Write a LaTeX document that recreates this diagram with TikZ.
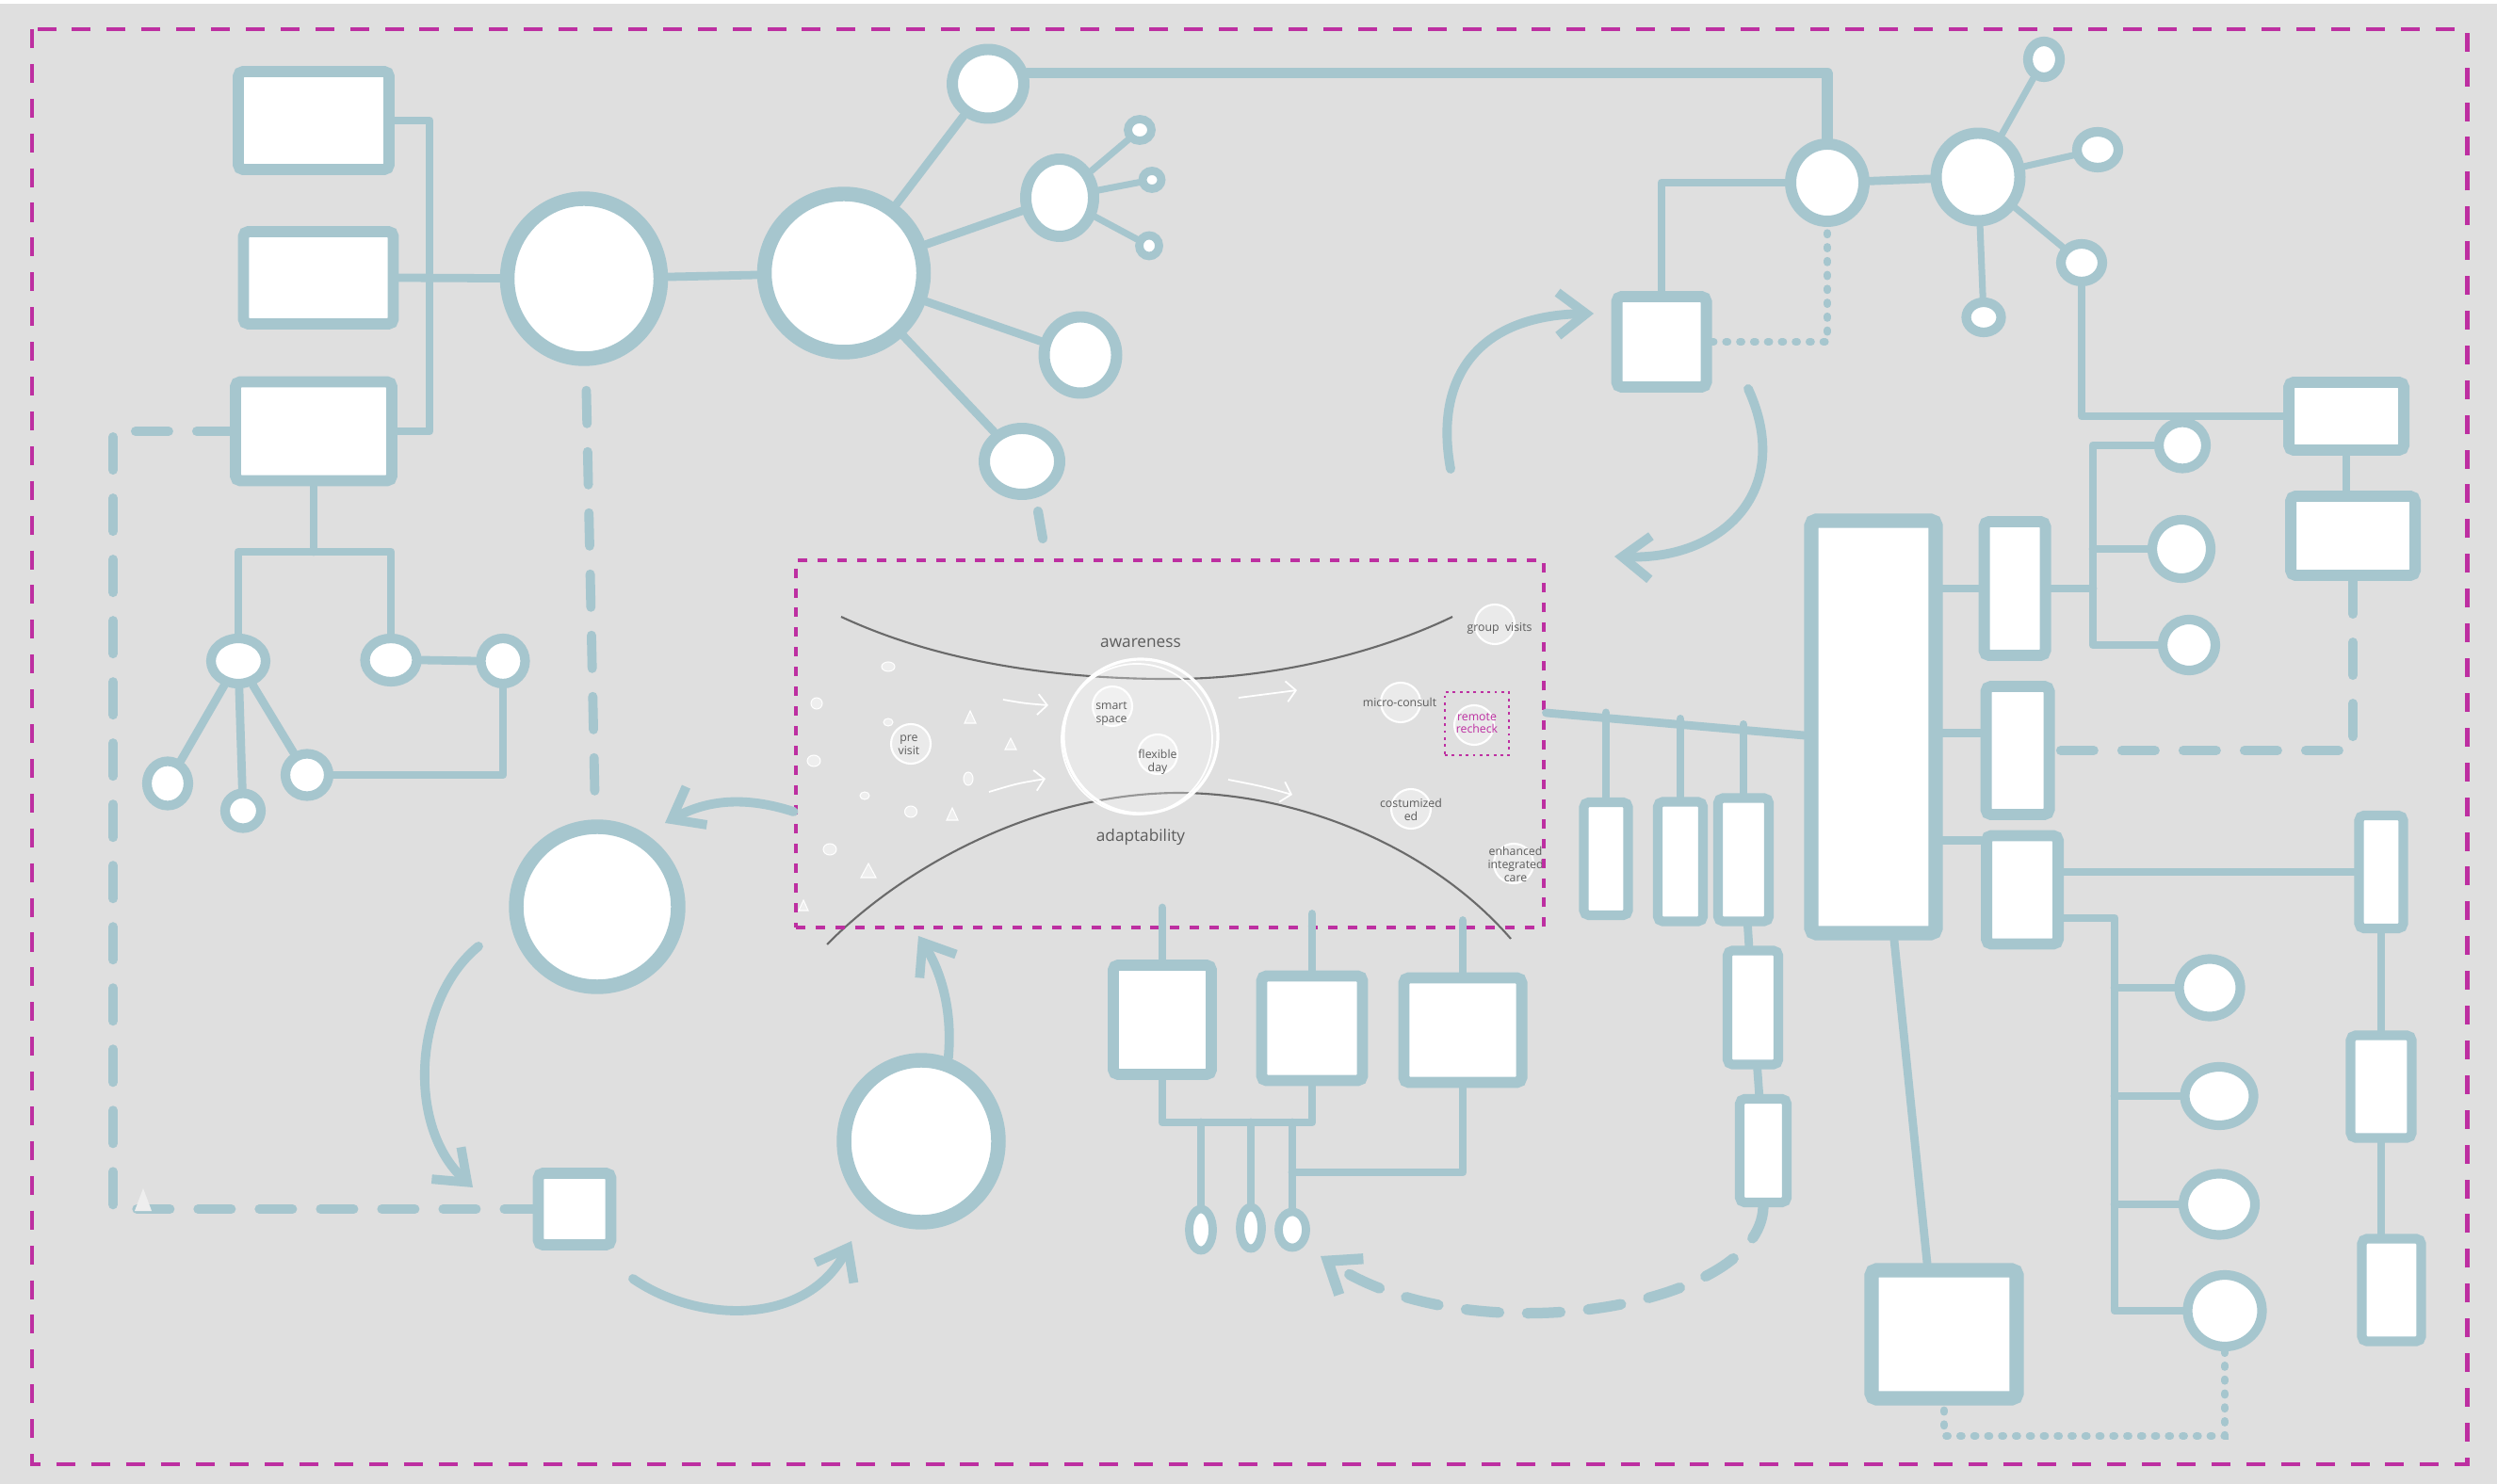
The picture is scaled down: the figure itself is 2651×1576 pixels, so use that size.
\documentclass[tikz,border=0pt]{standalone}
\usepackage{fontspec}
\setmainfont{Open Sans}
\usetikzlibrary{arrows.meta,shapes.geometric,calc}
\definecolor{bgc}{HTML}{DFDFDF}
\definecolor{tl}{HTML}{A6C6CE}
\definecolor{mag}{HTML}{BD2FA1}
\definecolor{ink}{HTML}{5C5C5C}
\definecolor{crv}{HTML}{6A6A6A}
\definecolor{dotc}{HTML}{EEEEEE}
\begin{document}
\begin{tikzpicture}[x=0.1mm,y=-0.1mm,
  sz/.style 2 args={minimum width=#1*0.1mm, minimum height=#2*0.1mm},
  tbox/.style={rectangle, draw=tl, fill=white, line width=3.4pt, rounded corners=1.5pt, inner sep=0pt},
  tboxs/.style={tbox, line width=2.9pt},
  tboxk/.style={tbox, line width=4.3pt},
  tell/.style={ellipse, draw=tl, fill=white, line width=3.4pt, inner sep=0pt},
  tellk/.style={tell, line width=4.4pt},
  tells/.style={tell, line width=2.9pt},
  tellx/.style={tell, line width=2.5pt},
  conn/.style={draw=tl, line width=2.5pt, line cap=round, line join=round},
  connt/.style={conn, line width=2pt},
  tdash/.style={conn, line width=2.8pt, dash pattern=on 10pt off 8.5pt},
  tdot/.style={draw=tl, line width=2.2pt, line cap=round, dash pattern=on 0.6pt off 3.6pt},
  tarrow/.style={conn, line width=2.8pt, -{Straight Barb[length=3mm,width=4.6mm]}},
  crvline/.style={draw=crv, line width=0.6pt},
  lc/.style={circle, draw=white, line width=0.6pt, fill=white, fill opacity=0.35, minimum size=4.2mm, inner sep=0pt},
  lbl/.style={font=\fontsize{3.5pt}{3.9pt}\selectfont, text=ink, align=center, inner sep=0pt},
  blbl/.style={font=\fontsize{4.9pt}{5.5pt}\selectfont, text=ink, inner sep=0pt},
  wdot/.style={fill=dotc, draw=white, line width=0.3pt},
  warr/.style={draw=white, line width=0.5pt, -{Straight Barb[length=1mm,width=2.2mm]}},
]
\useasboundingbox (0,0) rectangle (2651,1576);
\fill[bgc] (0,0) rectangle (2651,1576);
\fill[white] (0,0) rectangle (2651,4);
% outer frame
\draw[mag, line width=1.4pt, dash pattern=on 5.7pt off 4.8pt] (34,31) rectangle (2619,1555);

% ---------- inner box content ----------
\draw[crvline] (893,655) .. controls (1000,705) and (1130,722) .. (1250,721) .. controls (1360,720) and (1470,690) .. (1542,655);
\draw[crvline] (878,1003) .. controls (960,920) and (1100,843) .. (1250,842) .. controls (1380,842) and (1520,900) .. (1604,997);
\node[circle, draw=white, line width=0.9pt, fill=white, fill opacity=0.3, minimum size=16.4mm, inner sep=0pt] (hub) at (1211,782) {};
\node[circle, draw=white, line width=0.5pt, minimum size=16mm, inner sep=0pt] (hubb) at (1207,785) {};

\path[wdot] (943,708) ellipse [x radius=0.7mm, y radius=0.5mm];
\path[wdot] (867,747) ellipse [x radius=0.6mm, y radius=0.6mm];
\path[wdot] (943,767) ellipse [x radius=0.5mm, y radius=0.4mm];
\path[wdot] (864,808) ellipse [x radius=0.7mm, y radius=0.6mm];
\path[wdot] (918,845) ellipse [x radius=0.5mm, y radius=0.4mm];
\path[wdot] (967,862) ellipse [x radius=0.65mm, y radius=0.6mm];
\path[wdot] (1028,827) ellipse [x radius=0.5mm, y radius=0.7mm];
\path[wdot] (881,902) ellipse [x radius=0.7mm, y radius=0.6mm];
\path[wdot] (1030,755) -- (1036,768) -- (1024,768) -- cycle;
\path[wdot] (1073,784) -- (1079,796) -- (1067,796) -- cycle;
\path[wdot] (1011,858) -- (1017,871) -- (1005,871) -- cycle;
\path[wdot] (922,917) -- (930,932) -- (914,932) -- cycle;
\path[wdot] (853,956) -- (858,967) -- (848,967) -- cycle;

\draw[warr] (1065,743) .. controls (1088,747) .. (1113,749);
\draw[warr] (1050,841) .. controls (1080,832) .. (1110,827);
\draw[warr] (1315,741) .. controls (1345,737) .. (1377,733);
\draw[warr] (1304,828) .. controls (1340,835) .. (1372,844);

\node[lc] (cSmart) at (1181,750) {};
\node[lbl] (tSmart) at (1180,758) {smart\\space};
\node[lc] (cFlex) at (1229,801) {};
\node[lbl] (tFlex) at (1229,809) {flexible\\day};
\node[lc] (cPre) at (967,790) {};
\node[lbl] (tPre) at (965,791) {pre\\visit};
\node[lc] (cGroup) at (1587,663) {};
\node[lbl] (tGroup) at (1592,667) {group\ \ visits};
\node[lc] (cMicro) at (1487,746) {};
\node[lbl] (tMicro) at (1486,746) {micro-consult};
\node[lc] (cRemote) at (1565,770) {};
\node[lbl, text=mag] (tRemote) at (1568,768) {remote\\recheck};
\node[draw=mag, line width=0.8pt, dash pattern=on 0.8pt off 1.3pt, minimum width=6.8mm, minimum height=6.7mm, inner sep=0pt] (rrbox) at (1568,768.5) {};
\node[lc] (cCost) at (1498,859) {};
\node[lbl] (tCost) at (1498,860) {costumized\\ed};
\node[lc] (cEnh) at (1607,917) {};
\node[lbl] (tEnh) at (1609,918) {enhanced\\integrated\\care};
\node[blbl] (tAware) at (1211,683) {awareness};
\node[blbl] (tAdapt) at (1211,889) {adaptability};

\node[draw=mag, line width=1.4pt, dash pattern=on 2.85pt off 3.1pt, minimum width=79.4mm, minimum height=39mm, inner sep=0pt] (inner) at (1242,790) {};

% ---------- teal nodes ----------
\node[tbox, sz={160}{104}] (R1) at (333,128) {};
\node[tbox, sz={159}{98}] (R2) at (338,295) {};
\node[tbox, sz={166}{105}] (R3) at (333,458) {};
\node[tellk, sz={163}{170}] (C1) at (620,296) {};
\node[tellk, sz={169}{168}] (C2) at (896,290) {};
\node[tell, sz={76}{73}] (C3) at (1049,89) {};
\node[tell, sz={72}{82}] (C4) at (1125,210) {};
\node[tellx, sz={25}{23}] (c4a) at (1210,138) {};
\node[tellx, sz={20}{19}] (c4b) at (1223,191) {};
\node[tellx, sz={21}{22}] (c4c) at (1220,261) {};
\node[tell, sz={77}{81}] (C5) at (1147,377) {};
\node[tell, sz={80}{70}] (C6) at (1085,490) {};
\node[tell, sz={78}{82}] (C7) at (1940,194) {};
\node[tell, sz={89}{93}] (C8) at (2100,188) {};
\node[tells, sz={34}{38}] (c8a) at (2170,63) {};
\node[tells, sz={44}{38}] (c8b) at (2227,159) {};
\node[tells, sz={44}{40}] (c8c) at (2210,279) {};
\node[tells, sz={37}{32}] (c8d) at (2106,337) {};
\node[tbox, sz={95}{96}] (RS) at (1764,363) {};
\node[tbox, sz={122}{72}] (RTR1) at (2491,442) {};
\node[tbox, sz={132}{84}] (RTR2) at (2498,569) {};
\node[tboxk, sz={132}{438}] (RBIG) at (1989,772) {};
\node[tbox, sz={65}{142}] (RM1) at (2139,625) {};
\node[tbox, sz={67}{136}] (RM2) at (2142,797) {};
\node[tbox, sz={76}{115}] (RM3) at (2147,945) {};
\node[tells, sz={50}{49}] (cr1) at (2317,473) {};
\node[tells, sz={62}{62}] (cr2) at (2316,583) {};
\node[tells, sz={56}{54}] (cr3) at (2324,685) {};
\node[tboxs, sz={47}{120}] (RR1) at (2528,926) {};
\node[tboxs, sz={65}{109}] (RR2) at (2528,1154) {};
\node[tboxs, sz={63}{109}] (RR3) at (2539,1370) {};
\node[tells, sz={65}{61}] (cb1) at (2346,1049) {};
\node[tells, sz={73}{62}] (cb2) at (2356,1164) {};
\node[tells, sz={76}{65}] (cb3) at (2356,1279) {};
\node[tells, sz={79}{76}] (cb4) at (2362,1392) {};
\node[tboxk, sz={154}{136}] (RBOT) at (2064,1417) {};
\node[tboxs, sz={47}{120}] (Rs1) at (1705,912) {};
\node[tboxs, sz={48}{127}] (Rs2) at (1784,915) {};
\node[tboxs, sz={54}{131}] (Rs3) at (1851,913) {};
\node[tboxs, sz={54}{121}] (Rs4) at (1861,1070) {};
\node[tboxs, sz={50}{110}] (Rs5) at (1872,1222) {};
\node[tbox, sz={104}{116}] (Rb1) at (1234,1083) {};
\node[tbox, sz={107}{111}] (Rb2) at (1393,1092) {};
\node[tbox, sz={125}{111}] (Rb3) at (1553,1094) {};
\node[tellx, sz={25}{44}] (o1) at (1275,1306) {};
\node[tellx, sz={23}{44}] (o2) at (1328,1304) {};
\node[tellx, sz={29}{38}] (o3) at (1372,1306) {};
\node[tellk, sz={164}{172}] (CB) at (978,1212) {};
\node[tellk, sz={172}{170}] (CL) at (634,963) {};
\node[tbox, sz={77}{76}] (RSQ) at (610,1284) {};
\node[tells, sz={58}{48}] (cl1) at (253,702) {};
\node[tells, sz={55}{46}] (cl2) at (415,701) {};
\node[tells, sz={47}{48}] (cl3) at (534,702) {};
\node[tells, sz={44}{47}] (cl4) at (178,832) {};
\node[tells, sz={38}{37}] (cl5) at (258,861) {};
\node[tells, sz={46}{45}] (cl6) at (326,823) {};

% ---------- coordinates ----------
\coordinate (busM) at (456,295);
\coordinate (vR) at (2222,685);
\coordinate (vb0) at (2245,975);
\coordinate (vb4) at (2245,1392);
\coordinate (dotY) at (0,1525);
\coordinate (J1) at (0,1192);
\coordinate (J2) at (0,1245);
\coordinate (J3) at (0,586);
\coordinate (cornerL) at (120,1284);
\coordinate (stubA) at (1102,543);
\coordinate (stubB) at (1107,572);
\coordinate (darr) at (1402,1334);
\coordinate (a1s) at (1540,498);
\coordinate (a1e) at (1692,333);
\coordinate (a2s) at (1856,413);
\coordinate (a2e) at (1714,591);
\coordinate (a3e) at (706,874);
\coordinate (a4s) at (508,1005);
\coordinate (a4e) at (502,1261);
\coordinate (a5s) at (672,1358);
\coordinate (a5e) at (904,1318);
\coordinate (a6e) at (975,994);

% ---------- connectors: top left ----------
\draw[conn] (R1.east) -| (busM) |- (R3.east);
\draw[conn] (R2.east) -- (C1);
\draw[conn] (C1) -- (C2);
\draw[conn] (C2) -- (C3);
\draw[conn] (C2) -- (C4);
\draw[conn] (C2) -- (C5);
\draw[conn] (C2) .. controls (1000,400) .. (C6);
\draw[connt] (C4) -- (c4a);
\draw[connt] (C4) -- (c4b);
\draw[connt] (C4) -- (c4c);
\draw[conn, line width=2.9pt] (stubA) -- (stubB);
\draw[conn, line width=3.3pt] (C3.15) -| (C7.north);
\draw[tdash, shorten <=2.6mm, shorten >=3mm] (C1) -- (CL);

% ---------- top right ----------
\draw[conn] (C7) -- (C8);
\draw[connt] (C8) -- (c8a);
\draw[connt] (C8) -- (c8b);
\draw[connt] (C8) -- (c8c);
\draw[connt] (C8) -- (c8d);
\draw[conn] (c8c.south) |- (RTR1.west);
\draw[conn] (C7.west) -| (RS.north);
\draw[tdot] (RS.east) -| (C7.south);
\draw[conn] (RTR1.south) -- (RTR1.south |- RTR2.north);
\draw[tdash] (RTR2.south) |- (RM2.east);

% ---------- right ----------
\draw[conn] (RBIG.east |- RM1.west) -- (RM1.west);
\draw[conn] (RBIG.east |- RM2.155) -- (RM2.155);
\draw[conn] (RBIG.east |- RM3.130) -- (RM3.130);
\draw[conn] (RM1.east) -- (RM1.east -| vR);
\draw[conn] (cr1.west) -| (vR) |- (cr3.west);
\draw[conn] (cr2.west) -- (cr2.west -| vR);
\draw[conn] (RR1.west -| RM3.east) -- (RR1.west);
\draw[conn] (RR1.south) -- (RR1.south |- RR2.north);
\draw[conn] (RR2.south) -- (RR2.south |- RR3.north);
\draw[conn] (RM3.east |- vb0) -- (vb0) -- (vb4) -- (cb4.west);
\draw[conn] (cb1.west -| vb0) -- (cb1.west);
\draw[conn] (cb2.west -| vb0) -- (cb2.west);
\draw[conn] (cb3.west -| vb0) -- (cb3.west);
\draw[tdot] (cb4.south) -- (cb4.south |- dotY) -- (RBOT.south |- dotY) -- (RBOT.south);
\draw[conn] ([xshift=2.2mm]RBIG.south) -- ([xshift=-1.8mm]RBOT.north);
\draw[conn] ([yshift=3.3mm]inner.east) -- ([yshift=-0.9mm]RBIG.west);
\draw[conn] (Rs1.north) -- ++(0,-90);
\draw[conn] (Rs2.north) -- ++(0,-83);
\draw[conn] (Rs3.north) -- ++(0,-73);
\draw[conn] (Rs3) -- (Rs4);
\draw[conn] (Rs4) -- (Rs5);
\draw[tdash, line width=3.2pt, -{Straight Barb[length=3mm,width=4.6mm]}] (Rs5.south) .. controls (1868,1390) and (1560,1440) .. (darr);

% ---------- bottom centre ----------
\draw[conn] (Rb1.north) -- ++(0,-55);
\draw[conn] (Rb2.north) -- ++(0,-60);
\draw[conn] (Rb3.north) -- ++(0,-55);
\draw[conn] (Rb1.south) |- (Rb2.south |- J1) -- (Rb2.south);
\draw[conn] (o1.north) -- (o1.north |- J1);
\draw[conn] (o2.north) -- (o2.north |- J1);
\draw[conn] (o3.north) -- (o3.north |- J1);
\draw[conn] (Rb3.south) |- (o3.north |- J2);

% ---------- bottom left ----------
\draw[conn] (R3.south) -- (R3.south |- J3);
\draw[conn] (cl1.north) |- (cl2.north |- J3) -- (cl2.north);
\draw[conn] (cl2.east) -- (cl3.west);
\draw[conn] (cl3.south) |- (cl6.east);
\draw[conn] (cl1) -- (cl4);
\draw[conn] (cl1) -- (cl5);
\draw[conn] (cl1) -- (cl6);
\draw[tdash] (R3.west) -| (cornerL) |- (RSQ.west);
\path[fill=dotc] (152,1262) -- (161,1286) -- (143,1286) -- cycle;

% ---------- arrows ----------
\draw[tarrow] (a1s) .. controls (1522,400) and (1570,335) .. (a1e);
\draw[tarrow] (a2s) .. controls (1905,520) and (1830,595) .. (a2e);
\draw[tarrow] ([yshift=-7.2mm]inner.west) .. controls (790,845) and (750,850) .. (a3e);
\draw[tarrow] (a4s) .. controls (440,1060) and (430,1195) .. (a4e);
\draw[tarrow] (a5s) .. controls (740,1405) and (855,1410) .. (a5e);
\draw[tarrow] (CB.72) .. controls (1012,1065) and (995,1025) .. (a6e);
\end{tikzpicture}
\end{document}
